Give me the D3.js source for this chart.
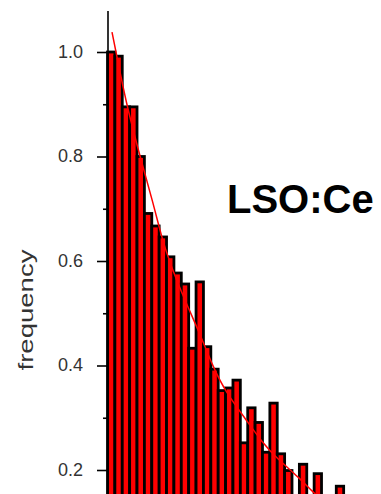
<!DOCTYPE html>
<html>
<head>
<meta charset="utf-8">
<script src="https://cdn.jsdelivr.net/npm/d3@7"></script>
<style>
  html, body { margin: 0; padding: 0; background: #fff; }
  svg { display: block; }
</style>
</head>
<body>
<svg id="chart" width="381" height="494"></svg>
<script>
// Normalised decay-time histogram (frequency per bin)
const binFreq = [
  1.000, 0.992, 0.895, 0.895, 0.800, 0.691, 0.667, 0.646,
  0.608, 0.577, 0.556, 0.433, 0.560, 0.436, 0.393, 0.352,
  0.357, 0.372, 0.252, 0.319, 0.291, 0.234, 0.328, 0.231,
  0.199, 0.140, 0.211, 0.130, 0.193, 0.120, 0.120, 0.169
];

// Fitted decay curve: bin position and frequency
const fitBin  = [0.61, 1.92, 2.59, 4.39, 6.19, 7.32, 8.45, 10.47, 12.5, 14.26, 16.1, 18.8, 21.0, 22.9, 26.0, 27.8, 29.3];
const fitFreq = [1.038, 0.946, 0.900, 0.800, 0.711, 0.646, 0.596, 0.525, 0.462, 0.398, 0.347, 0.296, 0.252, 0.223, 0.185, 0.158, 0.140];

// Axis ticks
const majorTicks = [0.2, 0.4, 0.6, 0.8, 1.0];
const minorTicks = [0.3, 0.5, 0.7, 0.9];
const tickLabels = ["0.2", "0.4", "0.6", "0.8", "1.0"];

const svg = d3.select("#chart");

const x = d3.scaleLinear().domain([0, 37]).range([107.5, 107.5 + 37 * 7.38]);
const y = d3.scaleLinear().domain([0, 1]).range([574.5, 52]);

// Bars
svg.append("g")
  .selectAll("rect")
  .data(binFreq)
  .join("rect")
  .attr("x", (d, i) => x(i))
  .attr("y", d => y(d))
  .attr("width", x(1) - x(0))
  .attr("height", d => y(0) - y(d))
  .attr("fill", "#ff0000")
  .attr("stroke", "#000")
  .attr("stroke-width", 2.8);

// Fit curve
const pts = fitBin.map((b, i) => [b, fitFreq[i]]);
svg.append("path")
  .datum(pts)
  .attr("fill", "none")
  .attr("stroke", "#ff0000")
  .attr("stroke-width", 1.5)
  .attr("d", d3.line().x(d => x(d[0])).y(d => y(d[1])).curve(d3.curveBasis));

// Y axis
const axisX = 108;
svg.append("line")
  .attr("x1", axisX).attr("x2", axisX)
  .attr("y1", y(1.0785)).attr("y2", 494)
  .attr("stroke", "#000").attr("stroke-width", 1.6);

const gMajor = svg.append("g")
  .attr("transform", `translate(${axisX},0)`)
  .call(d3.axisLeft(y).tickValues(majorTicks).tickSize(11).tickSizeOuter(0)
    .tickFormat((d, i) => tickLabels[i]));
gMajor.select(".domain").remove();
gMajor.selectAll(".tick line").attr("stroke", "#000").attr("stroke-width", 1.6);
gMajor.selectAll(".tick text")
  .attr("x", -25)
  .attr("dy", "0.3em")
  .attr("fill", "#333")
  .style("font-family", "'Liberation Sans', Arial, sans-serif")
  .style("font-size", "18px");

const gMinor = svg.append("g")
  .attr("transform", `translate(${axisX},0)`)
  .call(d3.axisLeft(y).tickValues(minorTicks).tickSize(5).tickSizeOuter(0).tickFormat(""));
gMinor.select(".domain").remove();
gMinor.selectAll(".tick line").attr("stroke", "#000").attr("stroke-width", 1.6);

// Axis title
svg.append("text")
  .attr("transform", "translate(33,310) rotate(-90)")
  .attr("text-anchor", "middle")
  .attr("textLength", 121)
  .attr("lengthAdjust", "spacingAndGlyphs")
  .attr("fill", "#333")
  .style("font-family", "'Liberation Sans', Arial, sans-serif")
  .style("font-size", "21px")
  .text("frequency");

// Sample label
svg.append("text")
  .attr("x", 227)
  .attr("y", 213)
  .attr("fill", "#000")
  .style("font-family", "'Liberation Sans', Arial, sans-serif")
  .style("font-size", "40px")
  .style("font-weight", "bold")
  .text("LSO:Ce");
</script>
</body>
</html>
